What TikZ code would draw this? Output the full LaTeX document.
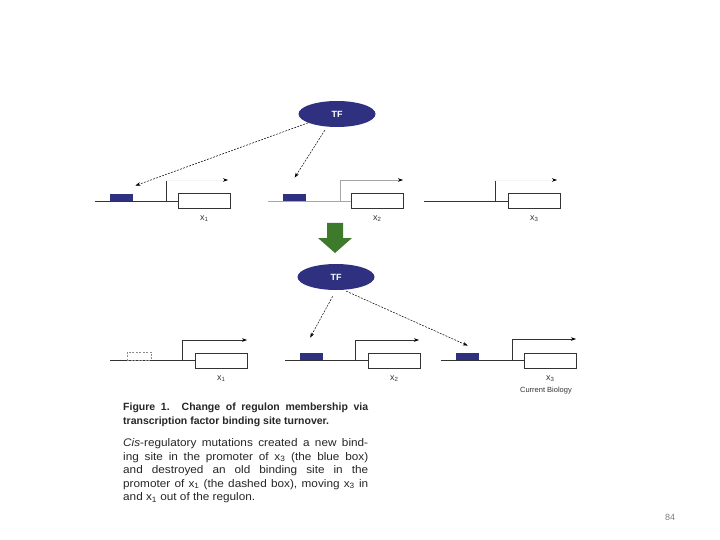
\documentclass[tikz,border=0pt]{standalone}
\usepackage{fontspec}
\setmainfont{Liberation Sans}
\newfontfamily\capwide[FakeStretch=1.07]{Liberation Sans}
\usetikzlibrary{shapes.geometric,arrows.meta,positioning}

\definecolor{tfblue}{RGB}{47,49,128}
\definecolor{shiftgreen}{RGB}{62,122,44}

\tikzset{
  tf/.style={ellipse, fill=tfblue, minimum width=77pt, minimum height=26pt, inner sep=0pt,
    text=white, font=\fontsize{9}{9}\selectfont\bfseries},
  site/.style={rectangle, fill=tfblue, minimum width=23pt, minimum height=7pt, inner sep=0pt, anchor=south west},
  oldsite/.style={rectangle, draw=black!45, dash pattern=on 2pt off 1.5pt, minimum width=24pt,
    minimum height=8pt, inner sep=0pt, anchor=south west},
  gene/.style={rectangle, draw=black!80, fill=white, minimum width=52pt, minimum height=15pt,
    inner sep=0pt, anchor=north west, line width=0.6pt},
  genelabel/.style={below=4pt, font=\fontsize{9}{9}\selectfont, text=black!80},
  dna/.style={draw=black!80, line width=0.6pt},
  tss/.style={line width=0.6pt, -{Stealth[length=5pt,width=3.5pt,color=black]}},
  bind/.style={-{Stealth[length=5pt,width=3.5pt]}, dash pattern=on 2pt off 1.2pt, line width=0.5pt},
}

\begin{document}
\begin{tikzpicture}[x=1pt,y=-1pt]
  \useasboundingbox (0,0) rectangle (720,540);
  \fill[white] (0,0) rectangle (720,540);

  % Before turnover: TF and three genes
  \node[tf] (tfa) at (337,114) {TF};
  \draw[dna] (95,201) -- (178,201);
  \draw[dna, draw=black!35] (268,201) -- (351,201);
  \draw[dna] (424,201) -- (508,201);
  \node[site] (sa1) at (110,201) {};
  \node[site] (sa2) at (283,201) {};
  \foreach \i/\x in {1/178, 2/351, 3/508} {
    \node[gene] (xa\i) at (\x,193) {};
    \node[genelabel] at (xa\i.south) {x\textsubscript{\i}};
  }

  % promoters, faint in the scan
  \draw[dna] (166,201) -- (166,180);
  \draw[tss, draw=black!4] (166,180) -- (228,180);
  \draw[tss, draw=black!35] (340,201) -- (340,180) -- (403,180);
  \draw[dna] (495,201) -- (495,180);
  \draw[tss, draw=black!4] (495,180) -- (557,180);

  % TF binding the old sites
  \draw[bind] (tfa.197) -- ([shift={(2pt,8pt)}]sa1.north east);
  \draw[bind, shorten <=4pt] (tfa.232) -- ([yshift=16pt]sa2.north);

  % Turnover
  \fill[shiftgreen] (327,223) -- (343,223) -- (343,238) -- (352,238) -- (335,253)
    -- (318,238) -- (327,238) -- cycle;

  % After turnover
  \node[tf] (tfb) at (336,277) {TF};
  \draw[dna] (110,360) -- (195,360);
  \draw[dna] (285,360) -- (368,360);
  \draw[dna] (441,360) -- (524,360);
  \node[oldsite] (sb1) at (127,360) {};
  \node[site] (sb2) at (300,360) {};
  \node[site] (sb3) at (456,360) {};
  \foreach \i/\x in {1/195, 2/368, 3/524} {
    \node[gene] (xb\i) at (\x,353) {};
    \node[genelabel] at (xb\i.south) {x\textsubscript{\i}};
  }
  \draw[tss, draw=black!80] (182,360) -- (182,340) -- (247,340);
  \draw[tss, draw=black!80] (355,360) -- (355,340) -- (419,340);
  \draw[tss, draw=black!80] (512,360) -- (512,339) -- (576,339);

  % TF binding the new sites
  \draw[bind, shorten <=7pt] (tfb.south) -- ([xshift=-1.5pt,yshift=15pt]sb2.north);
  \draw[bind, shorten <=3pt] (tfb.300) -- ([yshift=7pt]sb3.north);

  \node[font=\fontsize{7.5}{8}\selectfont, text=black!80] (journal) at (546,391) {Current Biology};

  % Caption
  \node[anchor=north west, text width=245pt, align=justify, inner sep=0pt, text=black!85,
    font=\fontsize{11}{13.5}\selectfont] (caption) at (123,403)
    {{\fontsize{10.5}{13.5}\selectfont\bfseries Figure 1. Change of regulon membership via\linebreak
      transcription factor binding site turnover.\par}\vspace{9pt}%
     {\capwide\textit{Cis}-regulatory mutations created a new bind-\linebreak
      ing site in the promoter of x\textsubscript{3} (the blue box)\linebreak
      and destroyed an old binding site in the\linebreak
      promoter of x\textsubscript{1} (the dashed box), moving x\textsubscript{3} in\linebreak
      and x\textsubscript{1} out of the regulon.\par}};

  \node[font=\fontsize{9}{9}\selectfont, text=black!50] (page) at (670,517) {84};
\end{tikzpicture}
\end{document}
